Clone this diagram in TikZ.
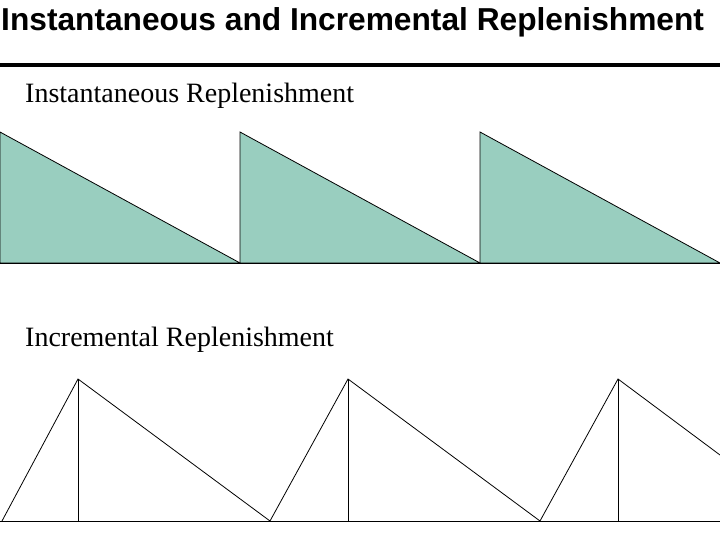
\documentclass[tikz,border=0pt]{standalone}
\usepackage{fontspec}
\setmainfont{Liberation Serif}
\setsansfont{Liberation Sans}
\definecolor{teal1}{RGB}{153,206,191}
\begin{document}
\begin{tikzpicture}[x=1pt,y=-1pt,
  tri/.style={draw=black,fill=teal1,line width=0.8pt},
  ln/.style={draw=black,line width=0.8pt}]
\useasboundingbox (0,0) rectangle (720,540);
\node[anchor=west,font=\sffamily\bfseries\fontsize{31.7}{36}\selectfont,inner sep=0] (title) at (1,22) {Instantaneous and Incremental Replenishment};
\draw[line width=3.5pt] (0,65) -- (720,65);
\node[anchor=west,font=\fontsize{28}{32}\selectfont,inner sep=0] (t1) at (25,96) {Instantaneous Replenishment};
\foreach \x in {0,240,480}{\path[tri] (\x,132) -- (\x,263) -- (\x+240,263) -- cycle;}
\draw[ln] (0,263) -- (720,263);
\node[anchor=west,font=\fontsize{28}{32}\selectfont,inner sep=0] (t2) at (25,340) {Incremental Replenishment};
\draw[ln] (0,521) -- (720,521);
\draw[ln] (2,521) -- (78,379) -- (270,521) -- (348,379) -- (540,521) -- (618,379) -- (720,455);
\foreach \x in {78,348,618}{\draw[ln] (\x,379) -- (\x,521);}
\end{tikzpicture}
\end{document}
